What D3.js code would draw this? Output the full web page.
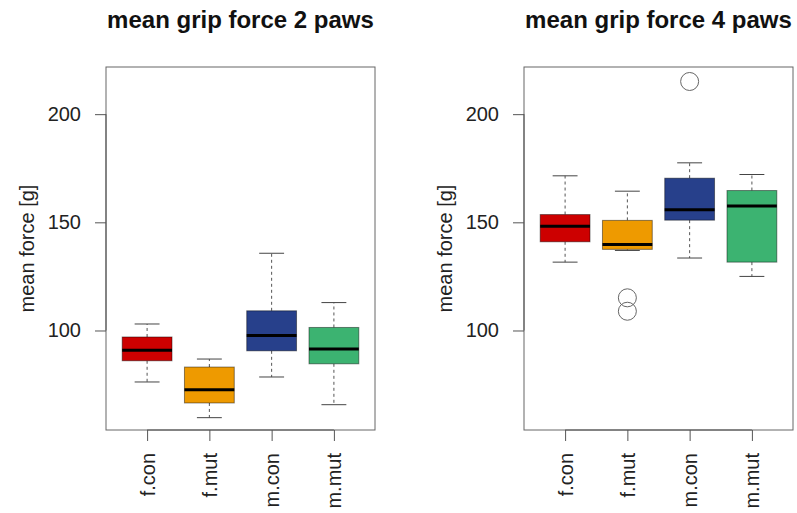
<!DOCTYPE html>
<html>
<head>
<meta charset="utf-8">
<script src="https://cdn.jsdelivr.net/npm/d3@7/dist/d3.min.js"></script>
<style>
  html, body { margin: 0; padding: 0; background: #fff; }
  svg { display: block; font-family: "Liberation Sans", Arial, Helvetica, sans-serif; }
</style>
</head>
<body>
<svg id="chart" width="797" height="513"></svg>
<script>
// Groups and their box colours
const groups = ["f.con", "f.mut", "m.con", "m.mut"];
const groupFills = ["#CD0000", "#EE9A00", "#27408B", "#3CB371"];

// Five-number summaries, 2 paws
const paws2Low    = [76.2, 59.7, 78.5, 65.7];
const paws2Q1     = [86.0, 66.5, 90.6, 84.6];
const paws2Median = [90.9, 72.6, 97.7, 91.5];
const paws2Q3     = [97.0, 83.1, 109.1, 101.4];
const paws2High   = [103.0, 86.8, 135.7, 112.9];
const paws2Outliers = [[], [], [], []];

// Five-number summaries, 4 paws
const paws4Low    = [131.6, 137.0, 133.5, 125.0];
const paws4Q1     = [141.0, 137.5, 151.0, 131.6];
const paws4Median = [148.2, 139.8, 155.8, 157.6];
const paws4Q3     = [153.6, 150.9, 170.4, 164.7];
const paws4High   = [171.5, 164.4, 177.5, 172.1];
const paws4Outliers = [[], [115.1, 108.9], [215.1], []];

const yTicks = [100, 150, 200];
const yDomain = [54.0, 221.8];

const panels = [
  { title: "mean grip force 2 paws", left: 106, right: 375,
    low: paws2Low, q1: paws2Q1, med: paws2Median, q3: paws2Q3, high: paws2High, out: paws2Outliers },
  { title: "mean grip force 4 paws", left: 524, right: 793,
    low: paws4Low, q1: paws4Q1, med: paws4Median, q3: paws4Q3, high: paws4High, out: paws4Outliers }
];

const plotTop = 67, plotBottom = 430;
const svg = d3.select("#chart");
const y = d3.scaleLinear().domain(yDomain).range([plotBottom, plotTop]);
const axisColor = "#555";

panels.forEach(p => {
  const g = svg.append("g");
  // positions 1..n with R-style 4% padding around [0.5, n+0.5]
  const n = groups.length;
  const pad = 0.04 * n;
  const x = d3.scaleLinear().domain([0.5 - pad, n + 0.5 + pad]).range([p.left, p.right]);
  const step = x(2) - x(1);
  const boxW = 0.8 * step;
  const capW = 0.5 * boxW;

  // Title
  g.append("text")
    .attr("x", (p.left + p.right) / 2).attr("y", 28)
    .attr("text-anchor", "middle")
    .attr("font-size", 24).attr("font-weight", "bold").attr("fill", "#111")
    .text(p.title);

  // Boxes
  groups.forEach((name, i) => {
    const cx = x(i + 1);
    const bg = g.append("g");
    // whiskers
    [[p.q3[i], p.high[i]], [p.q1[i], p.low[i]]].forEach(([a, b]) => {
      bg.append("line")
        .attr("x1", cx).attr("x2", cx).attr("y1", y(a)).attr("y2", y(b))
        .attr("stroke", "#555").attr("stroke-width", 1).attr("stroke-dasharray", "3,3");
      bg.append("line")
        .attr("x1", cx - capW / 2).attr("x2", cx + capW / 2).attr("y1", y(b)).attr("y2", y(b))
        .attr("stroke", "#444").attr("stroke-width", 1);
    });
    // box
    bg.append("rect")
      .attr("x", cx - boxW / 2).attr("width", boxW)
      .attr("y", y(p.q3[i])).attr("height", y(p.q1[i]) - y(p.q3[i]))
      .attr("fill", groupFills[i])
      .attr("stroke", "rgba(0,0,0,0.45)").attr("stroke-width", 1);
    // median
    bg.append("line")
      .attr("x1", cx - boxW / 2).attr("x2", cx + boxW / 2)
      .attr("y1", y(p.med[i])).attr("y2", y(p.med[i]))
      .attr("stroke", "#000").attr("stroke-width", 3);
    // outliers
    p.out[i].forEach(v => {
      bg.append("circle")
        .attr("cx", cx).attr("cy", y(v)).attr("r", 9)
        .attr("fill", "none").attr("stroke", "#666").attr("stroke-width", 1);
    });
  });

  // Frame
  g.append("rect")
    .attr("x", p.left).attr("y", plotTop)
    .attr("width", p.right - p.left).attr("height", plotBottom - plotTop)
    .attr("fill", "none").attr("stroke", "#666").attr("stroke-width", 1);

  // Y axis
  const yAxis = d3.axisLeft(y).tickValues(yTicks).tickSize(11).tickPadding(14).tickSizeOuter(0);
  const ya = g.append("g").attr("transform", `translate(${p.left},0)`).call(yAxis);
  ya.select(".domain").attr("d", `M0,${y(yTicks[0])}V${y(yTicks[yTicks.length - 1])}`).attr("stroke", axisColor);
  ya.selectAll(".tick line").attr("stroke", axisColor);
  ya.selectAll(".tick text").attr("font-size", 20).attr("fill", "#222")
    .attr("font-family", "'Liberation Sans', Arial, sans-serif");

  // X axis
  const xAxis = d3.axisBottom(x).tickValues(d3.range(1, n + 1)).tickSize(11).tickSizeOuter(0)
    .tickFormat(d => groups[d - 1]);
  const xa = g.append("g").attr("transform", `translate(0,${plotBottom})`).call(xAxis);
  xa.select(".domain").attr("d", `M${x(1)},0H${x(n)}`).attr("stroke", axisColor);
  xa.selectAll(".tick line").attr("stroke", axisColor);
  xa.selectAll(".tick text")
    .attr("font-size", 20).attr("fill", "#222")
    .attr("font-family", "'Liberation Sans', Arial, sans-serif")
    .attr("text-anchor", "end")
    .attr("transform", "translate(0,23) rotate(-90)")
    .attr("x", 0).attr("y", 0).attr("dy", "0.35em");

  // Y axis title
  g.append("text")
    .attr("transform", `translate(${p.left - 72},${(plotTop + plotBottom) / 2}) rotate(-90)`)
    .attr("text-anchor", "middle")
    .attr("font-size", 20).attr("fill", "#222")
    .text("mean force [g]");
});
</script>
</body>
</html>
